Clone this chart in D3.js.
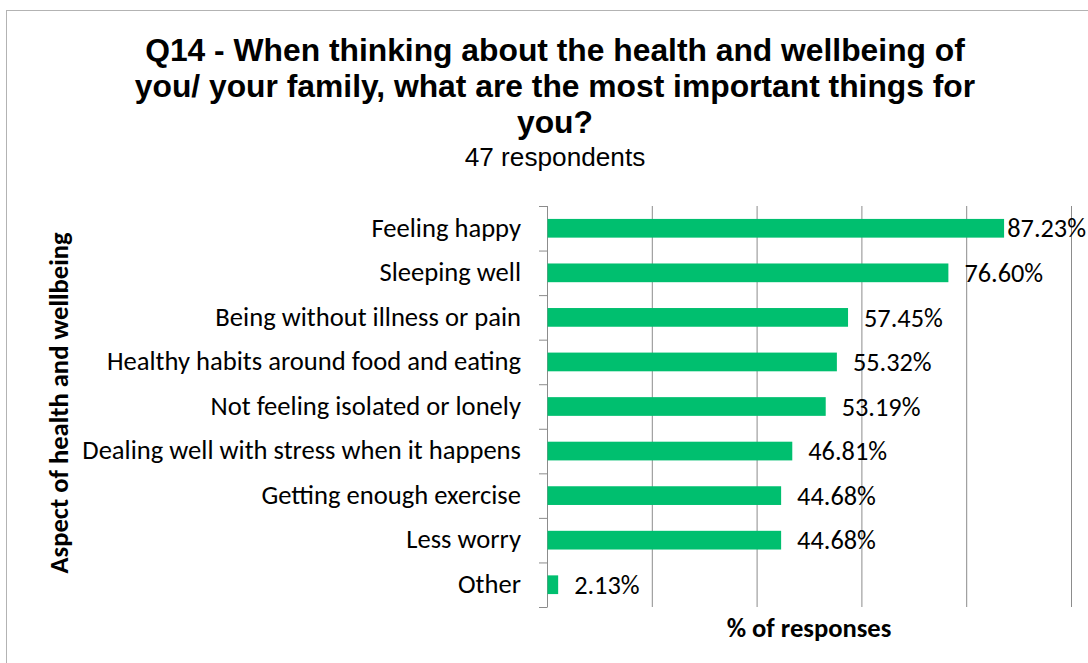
<!DOCTYPE html>
<html>
<head>
<meta charset="utf-8">
<script src="https://cdn.jsdelivr.net/npm/d3@7"></script>
<style>
  html, body { margin: 0; padding: 0; background: #fff; }
  svg { display: block; }
</style>
</head>
<body>
<svg id="chart" width="1088" height="663"></svg>
<script>
// Survey answers: share of the 47 respondents choosing each aspect
const categories = [
  "Feeling happy",
  "Sleeping well",
  "Being without illness or pain",
  "Healthy habits around food and eating",
  "Not feeling isolated or lonely",
  "Dealing well with stress when it happens",
  "Getting enough exercise",
  "Less worry",
  "Other"
];
const percentages = [87.23, 76.60, 57.45, 55.32, 53.19, 46.81, 44.68, 44.68, 2.13];
const gridTicks = [0, 20, 40, 60, 80, 100];
const titleLines = [
  "Q14 - When thinking about the health and wellbeing of",
  "you/ your family, what are the most important things for",
  "you?"
];
const subtitle = "47 respondents";
const xAxisTitle = "% of responses";
const yAxisTitle = "Aspect of health and wellbeing";

const W = 1088, H = 663;
const svg = d3.select("#chart");
const sans = "'Liberation Sans', Arial, sans-serif";
const body = "Carlito, Calibri, Lato, 'Open Sans', sans-serif";
const labelSize = 26.6;

// outer frame
svg.append("rect")
  .attr("x", 6.5).attr("y", 10.5)
  .attr("width", W + 20).attr("height", H + 20)
  .attr("fill", "#fff").attr("stroke", "#b3b3b3").attr("stroke-width", 1);

// plot area
const plot = { left: 547, right: 1071, top: 206, bottom: 607 };

const x = d3.scaleLinear().domain([0, 100]).range([plot.left, plot.right]);
const y = d3.scaleBand().domain(categories)
  .range([plot.top, plot.bottom])
  .paddingInner(0.58).paddingOuter(0.29);
const edge = d3.scaleLinear().domain([0, categories.length]).range([plot.top, plot.bottom]);

// vertical gridlines
const grid = svg.append("g")
  .attr("transform", `translate(0,${plot.bottom})`)
  .call(d3.axisBottom(x).tickValues(gridTicks).tickSize(-(plot.bottom - plot.top)).tickFormat(""));
grid.select(".domain").remove();
grid.selectAll(".tick line").attr("stroke", "#8c8c8c").attr("stroke-width", 1);

// category axis with ticks at band edges
const yAxis = svg.append("g")
  .attr("transform", `translate(${plot.left},0)`)
  .call(d3.axisLeft(edge).tickValues(d3.range(categories.length + 1)).tickSize(8).tickSizeOuter(0).tickFormat(""));
yAxis.select(".domain").attr("stroke", "#8c8c8c");
yAxis.selectAll(".tick line").attr("stroke", "#8c8c8c");

// bars
svg.append("g").selectAll("rect")
  .data(categories)
  .join("rect")
  .attr("x", x(0) + 0.5)
  .attr("y", d => y(d))
  .attr("width", (d, i) => x(percentages[i]) - x(0) - 0.5)
  .attr("height", y.bandwidth())
  .attr("fill", "#00bf6f");

// category labels
svg.append("g").selectAll("text")
  .data(categories)
  .join("text")
  .attr("x", 521)
  .attr("y", d => y(d) + y.bandwidth() / 2 - 1)
  .attr("dy", "0.35em")
  .attr("text-anchor", "end")
  .attr("font-family", body)
  .attr("font-size", labelSize)
  .attr("fill", "#000")
  .text(d => d);

// value labels, kept inside the right edge where they would overflow
const vals = svg.append("g").selectAll("text")
  .data(categories)
  .join("text")
  .attr("y", d => y(d) + y.bandwidth() / 2)
  .attr("dy", "0.35em")
  .attr("font-family", body)
  .attr("font-size", 26.3)
  .attr("fill", "#000")
  .text((d, i) => percentages[i].toFixed(2) + "%");
vals.attr("x", function (d, i) {
  const w = this.getComputedTextLength();
  return Math.min(x(percentages[i]) + 16, W - 2 - w);
});

// axis titles
svg.append("text")
  .attr("x", (plot.left + plot.right) / 2)
  .attr("y", 637)
  .attr("text-anchor", "middle")
  .attr("font-family", body)
  .attr("font-weight", "bold")
  .attr("font-size", labelSize)
  .text(xAxisTitle);

svg.append("text")
  .attr("transform", `translate(68,403) rotate(-90)`)
  .attr("text-anchor", "middle")
  .attr("font-family", body)
  .attr("font-weight", "bold")
  .attr("font-size", labelSize)
  .text(yAxisTitle);

// title
svg.append("g").selectAll("text")
  .data(titleLines)
  .join("text")
  .attr("x", 555)
  .attr("y", (d, i) => 61 + i * 36)
  .attr("text-anchor", "middle")
  .attr("font-family", sans)
  .attr("font-weight", "bold")
  .attr("font-size", 31.8)
  .attr("fill", "#000")
  .text(d => d);

svg.append("text")
  .attr("x", 555)
  .attr("y", 166)
  .attr("text-anchor", "middle")
  .attr("font-family", sans)
  .attr("font-size", 26.2)
  .attr("fill", "#000")
  .text(subtitle);
</script>
</body>
</html>
